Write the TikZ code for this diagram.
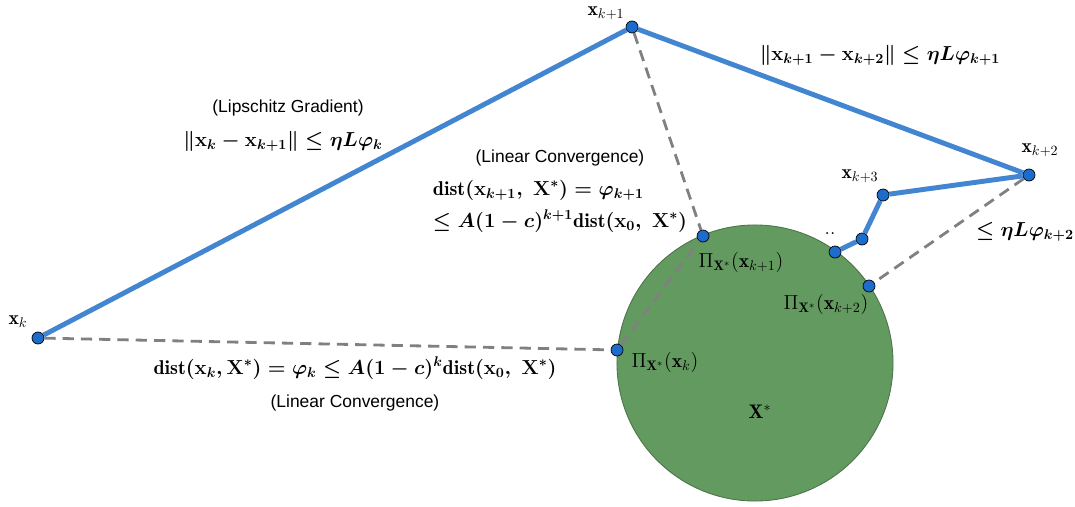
\documentclass[tikz,border=0pt]{standalone}
\usepackage{amsmath,amssymb,bm}
\usepackage{fontspec}
\newfontfamily\labelfont{Liberation Sans}
\usetikzlibrary{positioning}

\definecolor{stepblue}{RGB}{66,133,208}
\definecolor{dotblue}{RGB}{28,108,204}
\definecolor{setgreen}{RGB}{98,154,96}
\definecolor{dashgray}{RGB}{128,128,128}

\newcommand{\dist}{\mathrm{dist}}

\begin{document}
\begin{tikzpicture}[x=0.025cm,y=-0.025cm,font=\fontsize{14}{17}\selectfont,
  iterdot/.style={circle,draw=black,line width=0.5pt,fill=dotblue,inner sep=0pt,minimum size=0.3cm},
  stepline/.style={stepblue,line width=3.5pt},
  projline/.style={dashgray,line width=2pt,dash pattern=on 8pt off 5pt},
  sidenote/.style={font=\labelfont\fontsize{12.4}{14}\selectfont},
  boundtext/.style={font=\fontsize{14.2}{17}\selectfont\boldmath}]
\useasboundingbox (0,0) rectangle (1075,506);

% Solution set
\draw[fill=setgreen,draw=setgreen!75!black,line width=0.6pt] (755,363) circle [radius=3.45cm];
\node (xstar) at (760,412) {$\mathbf{X}^{*}$};

% Iterates and their projections
\node[iterdot] (xk) at (38,338) {};
\node[iterdot] (xk1) at (632,27) {};
\node[iterdot] (xk2) at (1029,175) {};
\node[iterdot] (xk3) at (883,195) {};
\node[iterdot] (xk4) at (862,239) {};
\node[iterdot] (xk5) at (835,252) {};
\node[iterdot] (pk) at (617,350) {};
\node[iterdot] (pk1) at (703,236) {};
\node[iterdot] (pk2) at (869,286) {};

% Distances to the set
\draw[projline] (xk) -- (pk);
\draw[projline] (xk1) -- (pk1);
\draw[projline] (pk) -- (pk1);
\draw[projline] (xk2) -- (pk2);

% Gradient steps
\draw[stepline] (xk) -- (xk1) -- (xk2) -- (xk3) -- (xk4) -- (xk5);

% Point labels
\node (lxk) at (18,322) {$\mathbf{x}_k$};
\node (lxk1) at (606,13) {$\mathbf{x}_{k+1}$};
\node (lxk2) at (1040,150) {$\mathbf{x}_{k+2}$};
\node (lxk3) at (860,176) {$\mathbf{x}_{k+3}$};
\node (ldots) at (830,234) {..};
\node (lpk) at (665,362) {$\Pi_{\mathbf{X}^{*}}(\mathbf{x}_k)$};
\node (lpk1) at (741,262) {$\Pi_{\mathbf{X}^{*}}(\mathbf{x}_{k+1})$};
\node (lpk2) at (826,304) {$\Pi_{\mathbf{X}^{*}}(\mathbf{x}_{k+2})$};

% Bounds
\node[sidenote] (lipnote) at (288,108) {(Lipschitz Gradient)};
\node[boundtext] (lipbound) at (283,141) {$\lVert\mathbf{x}_k-\mathbf{x}_{k+1}\rVert\le\eta L\varphi_k$};
\node[boundtext] (stepbound) at (880,55) {$\lVert\mathbf{x}_{k+1}-\mathbf{x}_{k+2}\rVert\le\eta L\varphi_{k+1}$};
\node[boundtext] (lastbound) at (1025,232) {$\le\eta L\varphi_{k+2}$};
\node[sidenote] (linnote1) at (560,158) {(Linear Convergence)};
\node[boundtext,anchor=west] (linbound1) at (428,190) {$\dist(\mathbf{x}_{k+1},\ \mathbf{X}^{*})=\varphi_{k+1}$};
\node[boundtext,anchor=west] (linbound2) at (428,221) {$\le A(1-c)^{k+1}\dist(\mathbf{x}_0,\ \mathbf{X}^{*})$};
\node[boundtext] (linbound0) at (355,368) {$\dist(\mathbf{x}_k,\mathbf{X}^{*})=\varphi_k\le A(1-c)^{k}\dist(\mathbf{x}_0,\ \mathbf{X}^{*})$};
\node[sidenote] (linnote0) at (355,403) {(Linear Convergence)};
\end{tikzpicture}
\end{document}
